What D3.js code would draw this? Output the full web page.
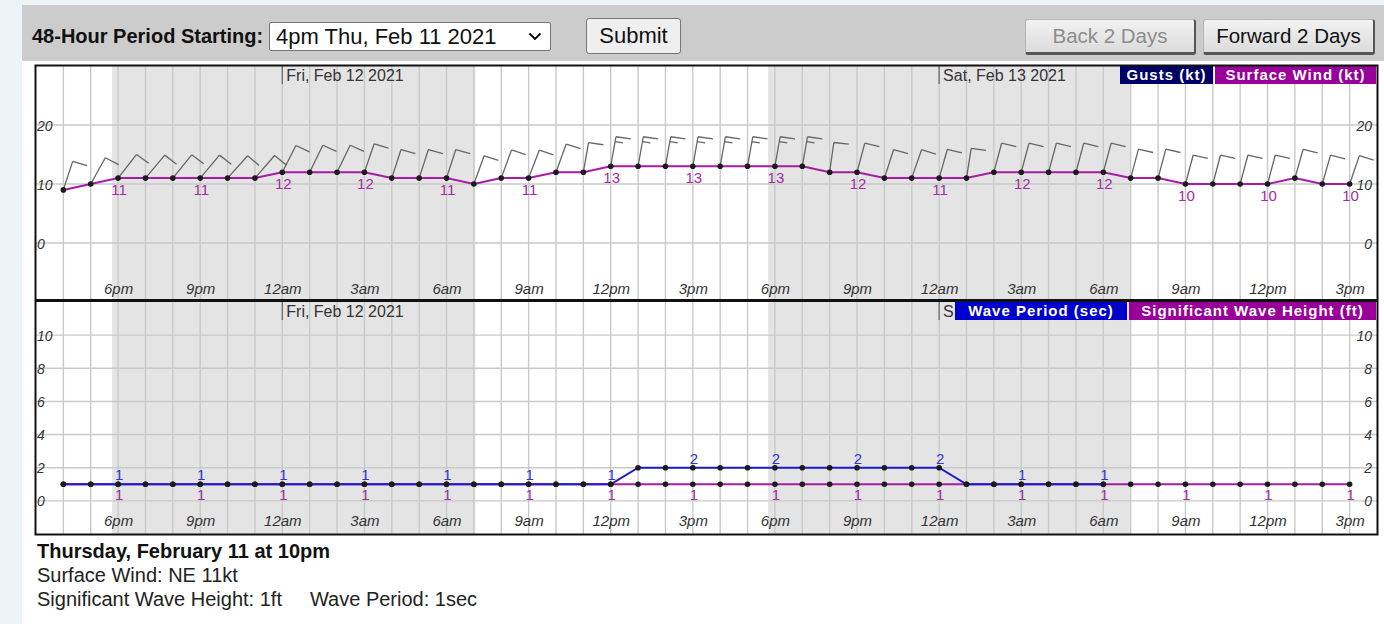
<!DOCTYPE html>
<html>
<head>
<meta charset="utf-8">
<script src="https://cdn.jsdelivr.net/npm/d3@7"></script>
<style>
  body { margin: 0; background: #edf4f7; font-family: Arial, "Liberation Sans", sans-serif; }
  #page { position: absolute; left: 22px; top: 5px; width: 1362px; height: 619px; background: #fff; }
  #bar { position: absolute; left: 22px; top: 5px; width: 1362px; height: 56px; background: #cccccc; }
  #chart { position: absolute; left: 0; top: 0; }
  .ctl { position: absolute; box-sizing: border-box; margin: 0; font-family: Arial, "Liberation Sans", sans-serif; }
  #lbl { left: 32px; top: 25px; font-size: 20px; font-weight: bold; color: #111; white-space: nowrap; }
  #period { left: 269px; top: 22px; width: 282px; height: 29px; font-size: 22px; color: #111;
    appearance: none; -webkit-appearance: none; border: 1px solid #767676; border-radius: 2px;
    padding: 0 0 0 6px; background: #fff url("data:image/svg+xml;utf8,<svg xmlns='http://www.w3.org/2000/svg' width='14' height='9'><path d='M1.5 1.5l5.5 5.5 5.5-5.5' fill='none' stroke='black' stroke-width='1.8'/></svg>") no-repeat right 8px center; }
  #submit { left: 586px; top: 18px; width: 95px; height: 36px; font-size: 22px; color: #111;
    background: #efefef; border: 1px solid #767676; border-radius: 3px; padding: 0; }
  .nav { top: 19px; height: 36px; font-size: 20.5px; padding: 0; border-radius: 3px;
    background: linear-gradient(#f2f2f2, #dcdcdc); border: 1px solid #b5b5b5;
    border-right: 2px solid #555; border-bottom: 3px solid #555; }
  #back { left: 1025px; width: 171px; color: #8c8c8c; }
  #fwd { left: 1203px; width: 172px; color: #111; }
  #info { position: absolute; left: 37px; top: 539px; font-size: 20px; line-height: 24px; color: #222; }
  #info b { color: #111; }
</style>
</head>
<body>
<div id="page"></div>
<div id="bar"></div>
<svg id="chart" width="1384" height="624"></svg>
<div class="ctl" id="lbl">48-Hour Period Starting:</div>
<select class="ctl" id="period"><option>4pm Thu, Feb 11 2021</option></select>
<button class="ctl" id="submit">Submit</button>
<button class="ctl nav" id="back">Back 2 Days</button>
<button class="ctl nav" id="fwd">Forward 2 Days</button>
<div id="info">
  <b>Thursday, February 11 at 10pm</b><br>
  Surface Wind: NE 11kt<br>
  Significant Wave Height: 1ft<span style="margin-left:28px">Wave Period: 1sec</span>
</div>
<script>
// ---- data (hourly, 4pm Thu Feb 11 2021 -> 3pm Sat Feb 13 2021) ----
const startTime = new Date(2021, 1, 11, 16);
const hours = d3.timeHour.range(startTime, new Date(2021, 1, 13, 16));

const windSpeed = [9, 10, 11, 11, 11, 11, 11, 11, 12, 12, 12, 12, 11, 11, 11, 10,
  11, 11, 12, 12, 13, 13, 13, 13, 13, 13, 13, 13, 12, 12, 11, 11,
  11, 11, 12, 12, 12, 12, 12, 11, 11, 10, 10, 10, 10, 11, 10, 10];
const windDir = [18, 29, 38, 40, 39, 40, 42, 41, 27, 26, 26, 19, 18, 18, 18, 20,
  20, 21, 20, 10, 10, 10, 10, 10, 10, 10, 10, 10, 8, 15, 18, 19,
  16, 9, 15, 15, 15, 15, 15, 15, 15, 15, 15, 15, 15, 16, 16, 19];
const waveHeight = [1, 1, 1, 1, 1, 1, 1, 1, 1, 1, 1, 1, 1, 1, 1, 1,
  1, 1, 1, 1, 1, 1, 1, 1, 1, 1, 1, 1, 1, 1, 1, 1,
  1, 1, 1, 1, 1, 1, 1, 1, 1, 1, 1, 1, 1, 1, 1, 1];
const wavePeriod = [1, 1, 1, 1, 1, 1, 1, 1, 1, 1, 1, 1, 1, 1, 1, 1,
  1, 1, 1, 1, 1, 2, 2, 2, 2, 2, 2, 2, 2, 2, 2, 2,
  2, 1, 1, 1, 1, 1, 1, null, null, null, null, null, null, null, null, null];

// sunset -> sunrise
const nights = [
  [new Date(2021, 1, 11, 17, 47), new Date(2021, 1, 12, 7, 3)],
  [new Date(2021, 1, 12, 17, 45), new Date(2021, 1, 13, 7, 0)]
];
const windTicks = [0, 10, 20];
const waveTicks = [0, 2, 4, 6, 8, 10];

const windLegend = [{ text: "Gusts (kt)", fill: "#000066", w: 93 }, { text: "Surface Wind (kt)", fill: "#990099", w: 161 }];
const waveLegend = [{ text: "Wave Period (sec)", fill: "#0000cc", w: 172 }, { text: "Significant Wave Height (ft)", fill: "#990099", w: 247 }];

// ---- scales ----
const x = d3.scaleTime()
  .domain([d3.timeHour.offset(startTime, -1), d3.timeHour.offset(startTime, 48)])
  .range([36, 1377]);
const yWind = d3.scaleLinear().domain([-10, 30]).range([302, 66]);
const yWave = d3.scaleLinear().domain([-2, 12]).range([534, 302]);

const svg = d3.select("#chart");
const fmtHour = (d) => d3.timeFormat("%-I%p")(d).toLowerCase();
const fmtDay = d3.timeFormat("%a, %b %-d %Y");
const hourTicks = hours.filter((d) => d.getHours() % 3 === 0);

function legendItems(items) {
  let right = 1376;
  return items.slice().reverse().map((d) => {
    right -= d.w;
    const r = { ...d, x: right };
    right -= 2;
    return r;
  }).reverse();
}

function panel(y, ticks, top, bottom, legendLeft) {
  const g = svg.append("g");
  g.append("rect").attr("x", 36).attr("y", top).attr("width", 1341).attr("height", bottom - top).attr("fill", "#fff");
  // night shading
  g.selectAll("rect.night").data(nights).join("rect")
    .attr("class", "night")
    .attr("x", (d) => x(d[0])).attr("width", (d) => x(d[1]) - x(d[0]))
    .attr("y", top).attr("height", bottom - top)
    .attr("fill", "#e4e4e4");
  // grid
  g.selectAll("line.vg").data(hours).join("line")
    .attr("class", "vg")
    .attr("x1", (d) => x(d)).attr("x2", (d) => x(d))
    .attr("y1", top).attr("y2", bottom)
    .attr("stroke", "#c9c9c9").attr("stroke-width", 1.4);
  g.selectAll("line.hg").data(ticks).join("line")
    .attr("class", "hg")
    .attr("x1", 36).attr("x2", 1377)
    .attr("y1", (d) => y(d)).attr("y2", (d) => y(d))
    .attr("stroke", "#c9c9c9").attr("stroke-width", 1.4);
  // y labels both sides
  const yl = g.append("g").attr("transform", "translate(36,0)")
    .call(d3.axisRight(y).tickValues(ticks).tickSize(0).tickPadding(1));
  const yr = g.append("g").attr("transform", "translate(1372,0)")
    .call(d3.axisLeft(y).tickValues(ticks).tickSize(0).tickPadding(0));
  [yl, yr].forEach((a) => {
    a.select(".domain").remove();
    a.selectAll("text").attr("font-size", 14).attr("font-style", "italic").attr("fill", "#333")
      .attr("font-family", "Arial, Liberation Sans, sans-serif").attr("dy", "0.36em");
  });
  // hour labels
  const xa = g.append("g").attr("transform", `translate(0,${bottom - 8})`)
    .call(d3.axisBottom(x).tickValues(hourTicks).tickFormat(fmtHour).tickSize(0).tickPadding(0));
  xa.select(".domain").remove();
  xa.selectAll("text").attr("dy", 0).attr("y", 0).attr("font-size", 15).attr("font-style", "italic")
    .attr("fill", "#333").attr("font-family", "Arial, Liberation Sans, sans-serif");
  // day labels (cut where the legend covers them)
  const days = d3.timeDay.range(x.domain()[0], x.domain()[1]).filter((d) => d > x.domain()[0]);
  const dl = g.selectAll("g.day").data(days).join("g").attr("class", "day");
  dl.append("line").attr("x1", (d) => x(d)).attr("x2", (d) => x(d))
    .attr("y1", top).attr("y2", top + 18).attr("stroke", "#666").attr("stroke-width", 1.2);
  dl.append("text").attr("x", (d) => x(d) + 4).attr("y", top + 15)
    .attr("font-size", 16).attr("fill", "#333").text(fmtDay)
    .each(function (d) {
      const room = legendLeft - (x(d) + 4);
      let s = fmtDay(d);
      while (s.length > 1 && this.getComputedTextLength() > room) {
        s = s.slice(0, -1).trimEnd();
        this.textContent = s;
      }
    });
  return g;
}

function legend(g, placed, top) {
  const lg = g.selectAll("g.leg").data(placed).join("g").attr("class", "leg");
  lg.append("rect").attr("x", (d) => d.x).attr("y", top).attr("width", (d) => d.w).attr("height", 18).attr("fill", (d) => d.fill);
  lg.append("text").attr("x", (d) => d.x + d.w / 2).attr("y", top + 14).attr("text-anchor", "middle")
    .attr("fill", "#fff").attr("font-weight", "bold").attr("font-size", 15).attr("letter-spacing", 1)
    .text((d) => d.text);
}

// ---- wind panel ----
const windLeg = legendItems(windLegend);
const gw = panel(yWind, windTicks, 66, 302, windLeg[0].x);
const wind = hours.map((t, i) => ({ t, v: windSpeed[i], dir: windDir[i], i }));

const rad = (a) => (a * Math.PI) / 180;
function barbPath(d) {
  const x0 = x(d.t), y0 = yWind(d.v), L = 30;
  const a = rad(d.dir), b = rad(d.dir + 88);
  const tx = x0 + L * Math.sin(a), ty = y0 - L * Math.cos(a);
  let p = `M${x0},${y0}L${tx},${ty}`;
  const r5 = Math.round(d.v / 5) * 5;
  const full = Math.floor(r5 / 10), half = (r5 % 10) === 5 ? 1 : 0;
  let k = 0;
  for (; k < full; k++) {
    const sx = tx - 5 * k * Math.sin(a), sy = ty + 5 * k * Math.cos(a);
    p += `M${sx},${sy}l${15 * Math.sin(b)},${-15 * Math.cos(b)}`;
  }
  if (half) {
    const sx = tx - 5 * k * Math.sin(a), sy = ty + 5 * k * Math.cos(a);
    p += `M${sx},${sy}l${8 * Math.sin(b)},${-8 * Math.cos(b)}`;
  }
  return p;
}
gw.append("g").selectAll("path").data(wind).join("path")
  .attr("d", barbPath).attr("fill", "none").attr("stroke", "#666").attr("stroke-width", 1.3)
  .attr("stroke-linejoin", "round");
gw.append("path").datum(wind)
  .attr("d", d3.line().x((d) => x(d.t)).y((d) => yWind(d.v)))
  .attr("fill", "none").attr("stroke", "#a81aa8").attr("stroke-width", 2);
gw.append("g").selectAll("circle").data(wind).join("circle")
  .attr("cx", (d) => x(d.t)).attr("cy", (d) => yWind(d.v)).attr("r", 2.8).attr("fill", "#1a1a1a");
gw.append("g").selectAll("text").data(wind.filter((d) => d.i % 3 === 2)).join("text")
  .attr("x", (d) => x(d.t) + 1).attr("y", (d) => yWind(d.v) + 17).attr("text-anchor", "middle")
  .attr("font-size", 15).attr("fill", "#a22ca2").text((d) => d.v);
legend(gw, windLeg, 66);

// ---- wave panel ----
const waveLeg = legendItems(waveLegend);
const gv = panel(yWave, waveTicks, 302, 534, waveLeg[0].x);
const height = hours.map((t, i) => ({ t, v: waveHeight[i], i }));
const period = hours.map((t, i) => ({ t, v: wavePeriod[i], i }));
const waveLine = d3.line().defined((d) => d.v != null).x((d) => x(d.t)).y((d) => yWave(d.v));
gv.append("path").datum(height).attr("d", waveLine).attr("fill", "none").attr("stroke", "#a81aa8").attr("stroke-width", 2);
gv.append("path").datum(period).attr("d", waveLine).attr("fill", "none").attr("stroke", "#1a1ad0").attr("stroke-width", 2);
gv.append("g").selectAll("circle").data(height.concat(period.filter((d) => d.v != null))).join("circle")
  .attr("cx", (d) => x(d.t)).attr("cy", (d) => yWave(d.v)).attr("r", 2.8).attr("fill", "#1a1a1a");
gv.append("g").selectAll("text").data(height.filter((d) => d.i % 3 === 2)).join("text")
  .attr("x", (d) => x(d.t) + 1).attr("y", (d) => yWave(d.v) + 16).attr("text-anchor", "middle")
  .attr("font-size", 15).attr("fill", "#a22ca2").text((d) => d.v);
gv.append("g").selectAll("text").data(period.filter((d) => d.i % 3 === 2 && d.v != null)).join("text")
  .attr("x", (d) => x(d.t) + 1).attr("y", (d) => yWave(d.v) - 4).attr("text-anchor", "middle")
  .attr("font-size", 15).attr("fill", "#3333cc").text((d) => d.v);
legend(gv, waveLeg, 302);

// ---- frame ----
svg.append("rect").attr("x", 35.5).attr("y", 65.5).attr("width", 1342).attr("height", 469)
  .attr("fill", "none").attr("stroke", "#111").attr("stroke-width", 2);
svg.append("line").attr("x1", 35).attr("x2", 1378).attr("y1", 300.5).attr("y2", 300.5)
  .attr("stroke", "#111").attr("stroke-width", 3);
</script>
</body>
</html>
